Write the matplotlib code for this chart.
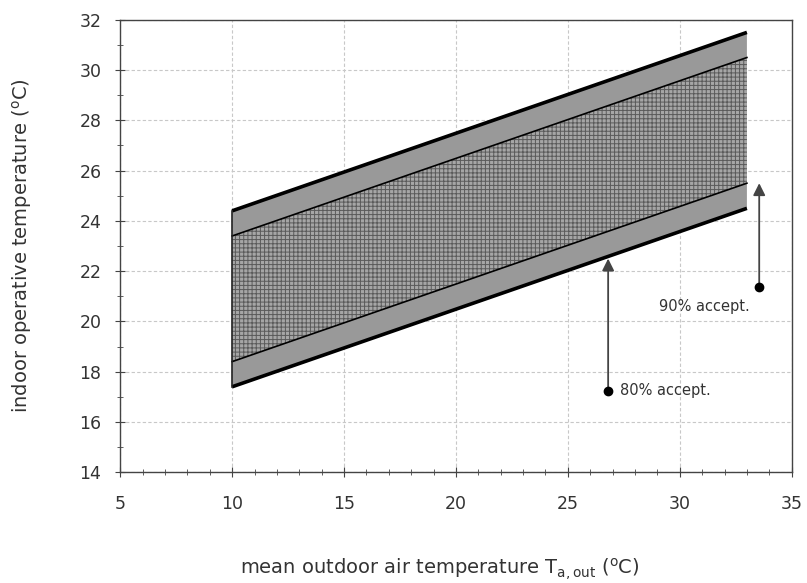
import matplotlib
matplotlib.use("Agg")
import matplotlib.pyplot as plt
from matplotlib.ticker import MultipleLocator

plt.rcParams['font.family'] = ['DejaVu Sans']
plt.rcParams['mathtext.default'] = 'regular'
plt.rcParams['hatch.color'] = '#5a5a5a'
plt.rcParams['hatch.linewidth'] = 0.7

# adaptive comfort band limits (indoor operative temperature vs outdoor mean)
t_out = [10, 33]
upper_80 = [24.4, 31.5]
upper_90 = [23.4, 30.5]
lower_90 = [18.4, 25.5]
lower_80 = [17.4, 24.5]

# annotation arrows: x, dot y, arrow tip y
arrow_80 = (26.8, 17.25, 22.5)
arrow_90 = (33.55, 21.35, 25.5)

fig = plt.figure(figsize=(8.07, 5.83), dpi=100)
ax = fig.add_axes([0.149, 0.19, 0.832, 0.776])

ax.set_xlim(5, 35)
ax.set_ylim(14, 32)
ax.xaxis.set_major_locator(MultipleLocator(5))
ax.xaxis.set_minor_locator(MultipleLocator(1))
ax.yaxis.set_major_locator(MultipleLocator(2))
ax.yaxis.set_minor_locator(MultipleLocator(1))
ax.grid(True, which='major', color='#c8c8c8', linestyle=(0, (3, 2)), linewidth=0.8)
ax.set_axisbelow(True)

ax.tick_params(which='both', direction='inout', colors='#444444', labelcolor='#333333')
ax.tick_params(which='major', length=7, labelsize=12.5)
ax.tick_params(axis='x', which='major', pad=13)
ax.tick_params(axis='y', which='major', pad=10)
ax.tick_params(which='minor', length=4)
for s in ax.spines.values():
    s.set_color('#444444')
    s.set_linewidth(1.0)

# outer 80% band
ax.fill_between(t_out, lower_80, upper_80, facecolor='#999999', edgecolor='none', zorder=2)
# inner 90% band, crosshatched
ax.fill_between(t_out, lower_90, upper_90, facecolor='#a6a6a6', edgecolor='#5a5a5a',
                hatch='++++', linewidth=0, zorder=3)

ax.plot(t_out, upper_80, color='black', lw=2.6, solid_capstyle='butt', zorder=5)
ax.plot(t_out, lower_80, color='black', lw=2.6, solid_capstyle='butt', zorder=5)
ax.plot(t_out, upper_90, color='black', lw=1.2, zorder=5)
ax.plot(t_out, lower_90, color='black', lw=1.2, zorder=5)
ax.plot([t_out[0], t_out[0]], [lower_80[0], upper_80[0]], color='#222222', lw=1.2, zorder=5)

for x, y0, y1 in (arrow_80, arrow_90):
    ax.annotate('', xy=(x, y1), xytext=(x, y0),
                arrowprops=dict(arrowstyle='-|>', color='#444444', lw=1.3,
                                mutation_scale=18, shrinkA=0, shrinkB=0), zorder=6)
    ax.plot(x, y0, 'o', color='black', ms=6, zorder=7)

ax.text(27.35, 17.25, '80% accept.', fontsize=10.5, color='#333333', va='center', ha='left')
ax.text(31.1, 20.6, '90% accept.', fontsize=10.5, color='#333333', va='center', ha='center')

ax.set_ylabel('indoor operative temperature ($^o$C)', fontsize=14, color='#333333')
ax.yaxis.set_label_coords(-0.129, 0.5)
ax.set_xlabel('mean outdoor air temperature T$_{a,out}$ ($^o$C)', fontsize=14,
              color='#333333')
ax.xaxis.set_label_coords(0.476, -0.185)

fig.savefig('out.png', dpi=100)
